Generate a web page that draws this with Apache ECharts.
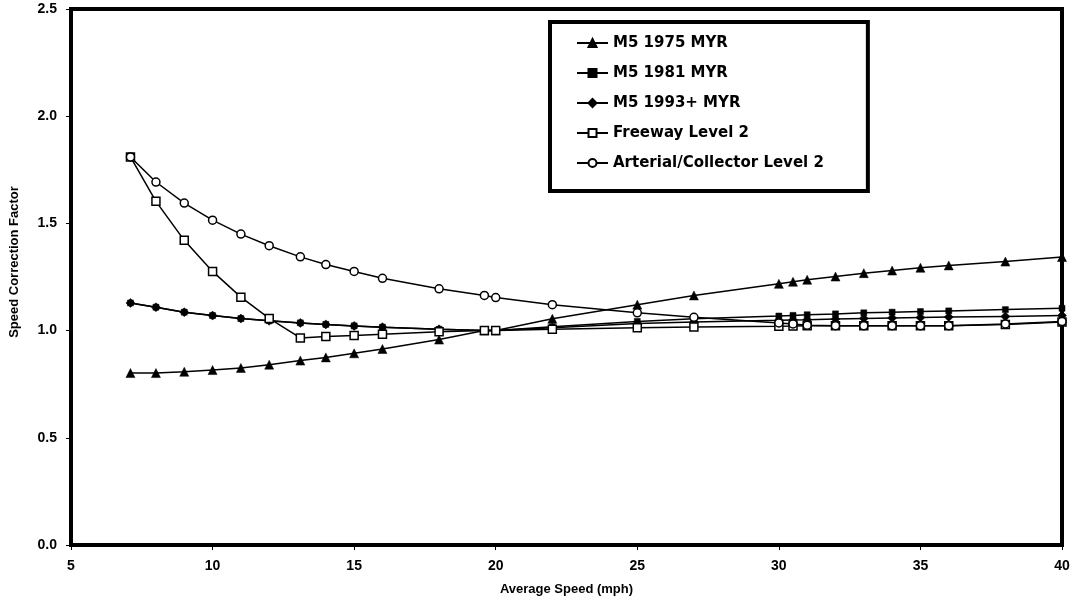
<!DOCTYPE html>
<html><head><meta charset="utf-8">
<script src="https://cdn.jsdelivr.net/npm/echarts@6/dist/echarts.min.js"></script>
<style>html,body{margin:0;padding:0;background:#fff}#c{width:1076px;height:607px}</style>
</head><body><div id="c"></div>
<script>
const speeds = [7.1, 8, 9, 10, 11, 12, 13.1, 14, 15, 16, 18, 19.6, 20, 22, 25, 27, 30, 30.5, 31, 32, 33, 34, 35, 36, 38, 40];
const m5_1975 = [0.802,0.802,0.808,0.816,0.826,0.841,0.860,0.875,0.894,0.914,0.958,1.0,1.0,1.055,1.121,1.164,1.218,1.228,1.237,1.252,1.268,1.280,1.293,1.304,1.322,1.343];
const m5_1981 = [1.129,1.109,1.086,1.070,1.056,1.046,1.036,1.029,1.022,1.016,1.006,1.0,1.0,1.018,1.043,1.055,1.068,1.071,1.074,1.078,1.083,1.086,1.089,1.092,1.098,1.104];
const m5_1993 = [1.129,1.109,1.086,1.070,1.056,1.046,1.036,1.029,1.022,1.016,1.006,1.0,1.0,1.013,1.033,1.040,1.048,1.050,1.051,1.054,1.057,1.059,1.061,1.063,1.066,1.070];
const freeway = [1.81,1.603,1.421,1.276,1.156,1.057,0.966,0.972,0.977,0.983,0.995,1.0,1.0,1.006,1.013,1.017,1.020,1.021,1.023,1.023,1.023,1.023,1.023,1.023,1.029,1.040];
const arterial = [1.81,1.693,1.595,1.515,1.450,1.396,1.344,1.308,1.276,1.244,1.195,1.164,1.154,1.121,1.083,1.062,1.036,1.031,1.025,1.023,1.023,1.023,1.023,1.023,1.031,1.042];
const seriesNames = ['M5 1975 MYR','M5 1981 MYR','M5 1993+ MYR','Freeway Level 2','Arterial/Collector Level 2'];
const xTitle = 'Average Speed (mph)';
const yTitle = 'Speed Correction Factor';

const pair = v => speeds.map((s,i)=>[s,v[i]]);
const FONT = 'Liberation Sans, Arial, sans-serif';
function mk(name, vals, symbol, size, fill){
  return {name, type:'line', data:pair(vals), symbol, symbolSize:size, showSymbol:true,
    lineStyle:{color:'#000', width:1.5}, itemStyle:{color:fill, borderColor:'#000', borderWidth: fill==='#fff'?1.5:0.5},
    emphasis:{disabled:true}, animation:false};
}
const chart = echarts.init(document.getElementById('c'));
chart.setOption({
  backgroundColor:'#fff',
  animation:false,
  grid:{left:71, right:14, top:9, bottom:62, show:true, borderColor:'#000', borderWidth:4, backgroundColor:'transparent'},
  legend:{
    left:550, top:22, orient:'vertical', itemWidth:31, itemHeight:10, itemGap:14,
    padding:[13,44,20,26], backgroundColor:'#fff', borderColor:'#000', borderWidth:4,
    textStyle:{fontFamily:'DejaVu Sans', fontWeight:'bold', fontSize:15, color:'#000', lineHeight:16},
    data:seriesNames
  },
  xAxis:{type:'value', min:5, max:40, interval:5,
    name:xTitle, nameLocation:'middle', nameGap:38,
    nameTextStyle:{fontFamily:FONT, fontWeight:'bold', fontSize:13, color:'#000'},
    axisLine:{show:true, lineStyle:{color:'#000', width:1}},
    axisTick:{show:true, inside:false, length:5, lineStyle:{color:'#000'}},
    axisLabel:{fontFamily:FONT, fontWeight:'bold', fontSize:14, color:'#000', margin:14},
    splitLine:{show:false}},
  yAxis:{type:'value', min:0, max:2.5, interval:0.5,
    axisLine:{show:true, lineStyle:{color:'#000', width:1}},
    axisTick:{show:true, inside:false, length:5, lineStyle:{color:'#000'}},
    axisLabel:{fontFamily:FONT, fontWeight:'bold', fontSize:14, color:'#000', margin:14, formatter:v=>v.toFixed(1)},
    splitLine:{show:false}},
  graphic:[{type:'text', x:14, y:262, rotation:Math.PI/2,
    style:{text:yTitle, fontFamily:FONT, fontWeight:'bold', fontSize:13, fill:'#000', align:'center', verticalAlign:'middle'}}],
  series:[
    mk(seriesNames[0], m5_1975, 'triangle', 9, '#000'),
    mk(seriesNames[1], m5_1981, 'rect', 6, '#000'),
    mk(seriesNames[2], m5_1993, 'diamond', 9, '#000'),
    mk(seriesNames[3], freeway, 'rect', 8, '#fff'),
    mk(seriesNames[4], arterial, 'circle', 8, '#fff')
  ]
});
</script></body></html>
